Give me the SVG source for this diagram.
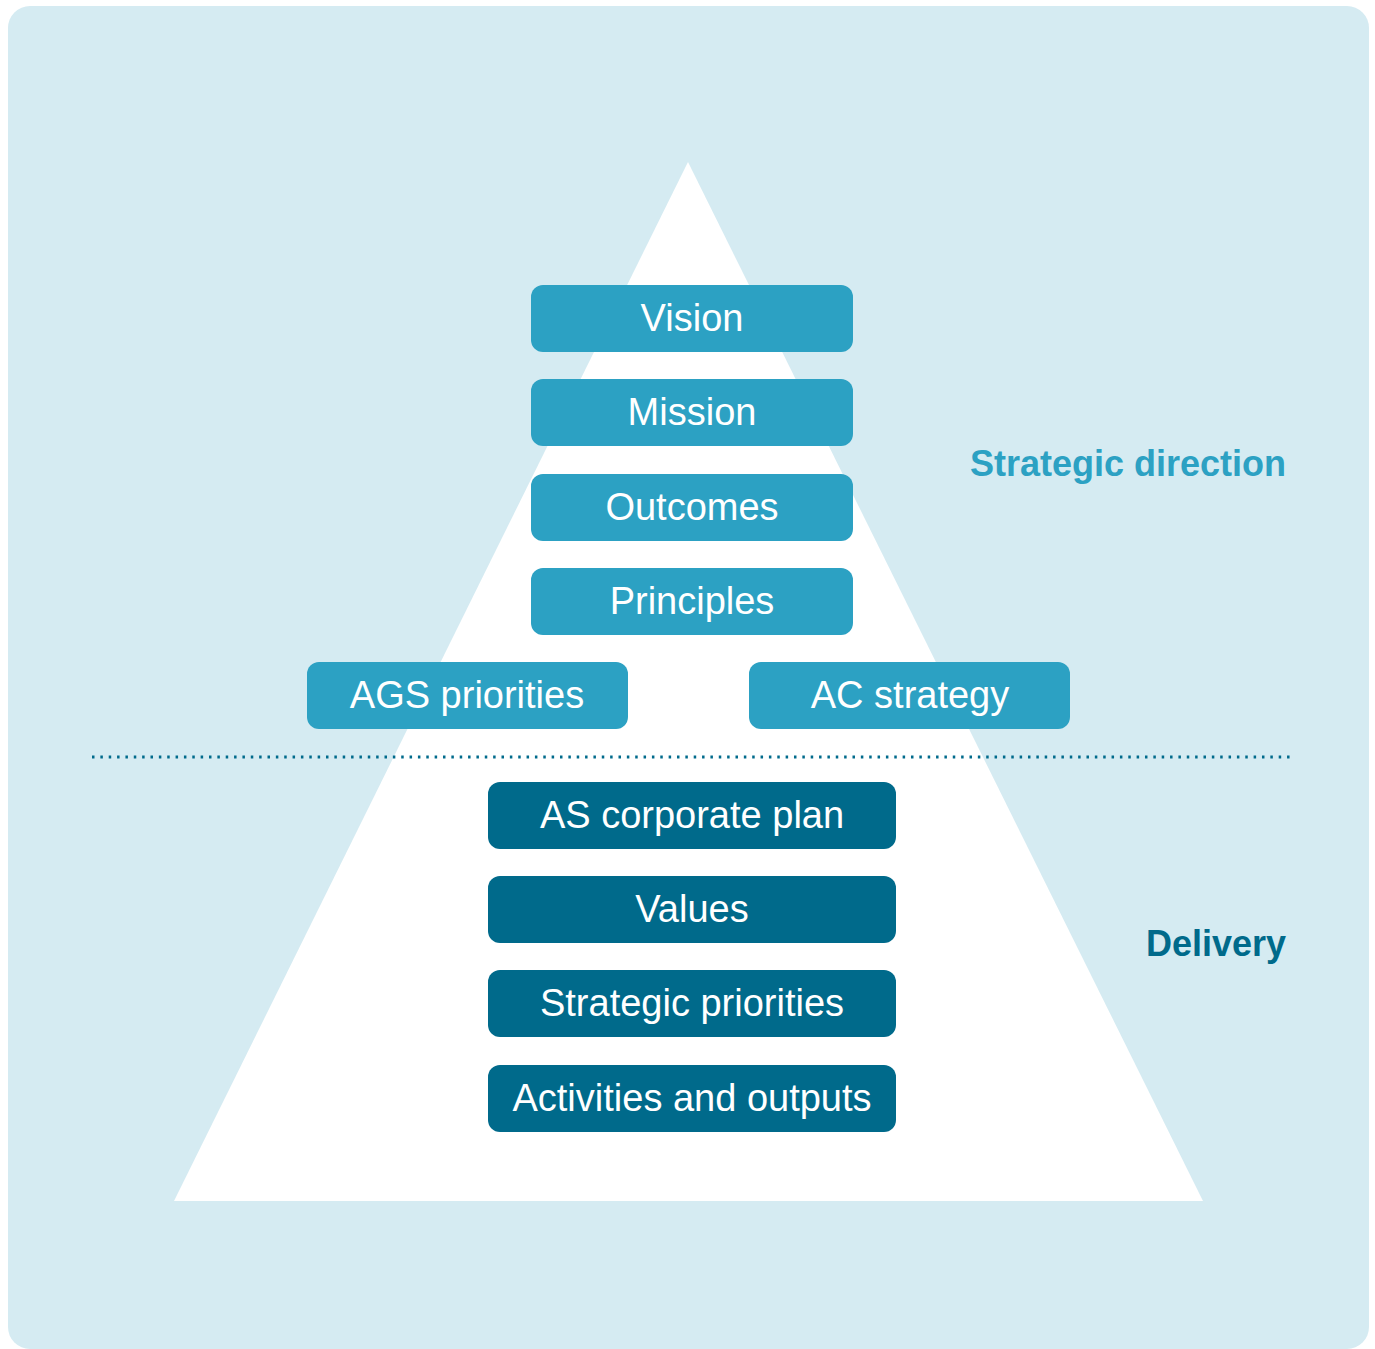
<svg xmlns="http://www.w3.org/2000/svg" width="1375" height="1349" viewBox="0 0 1375 1349">
<style>
.bg{fill:#D5EBF2}
.tri{fill:#FFFFFF}
.lb{fill:#2CA1C3}
.db{fill:#006A8B}
.bt{font-family:"Liberation Sans",Arial,sans-serif;font-size:38px;fill:#FFFFFF;text-anchor:middle}
.side{font-family:"Liberation Sans",Arial,sans-serif;font-size:36px;font-weight:bold;text-anchor:end}
</style>
<rect class="bg" x="8" y="6" width="1361" height="1343" rx="22"/>
<polygon class="tri" points="688,162 174,1201 1203,1201"/>
<g id="connectors">
<line x1="92" y1="757" x2="1290" y2="757" stroke="#006A8B" stroke-width="3" stroke-dasharray="2.5 5.857"/>
</g>
<g id="vision"><rect class="lb" x="531" y="285" width="322" height="67" rx="12"/><text class="bt" x="692" y="331">Vision</text></g>
<g id="mission"><rect class="lb" x="531" y="379" width="322" height="67" rx="12"/><text class="bt" x="692" y="425">Mission</text></g>
<g id="outcomes"><rect class="lb" x="531" y="474" width="322" height="67" rx="12"/><text class="bt" x="692" y="520">Outcomes</text></g>
<g id="principles"><rect class="lb" x="531" y="568" width="322" height="67" rx="12"/><text class="bt" x="692" y="614">Principles</text></g>
<g id="ags"><rect class="lb" x="307" y="662" width="321" height="67" rx="12"/><text class="bt" x="467" y="708">AGS priorities</text></g>
<g id="ac"><rect class="lb" x="749" y="662" width="321" height="67" rx="12"/><text class="bt" x="910" y="708">AC strategy</text></g>
<g id="ascorp"><rect class="db" x="488" y="782" width="408" height="67" rx="12"/><text class="bt" x="692" y="828">AS corporate plan</text></g>
<g id="values"><rect class="db" x="488" y="876" width="408" height="67" rx="12"/><text class="bt" x="692" y="922">Values</text></g>
<g id="strategic"><rect class="db" x="488" y="970" width="408" height="67" rx="12"/><text class="bt" x="692" y="1016">Strategic priorities</text></g>
<g id="activities"><rect class="db" x="488" y="1065" width="408" height="67" rx="12"/><text class="bt" x="692" y="1111">Activities and outputs</text></g>
<g id="label-strategic"><text class="side" x="1286" y="476" fill="#2CA1C3">Strategic direction</text></g>
<g id="label-delivery"><text class="side" x="1286" y="956" fill="#006A8B">Delivery</text></g>
</svg>
